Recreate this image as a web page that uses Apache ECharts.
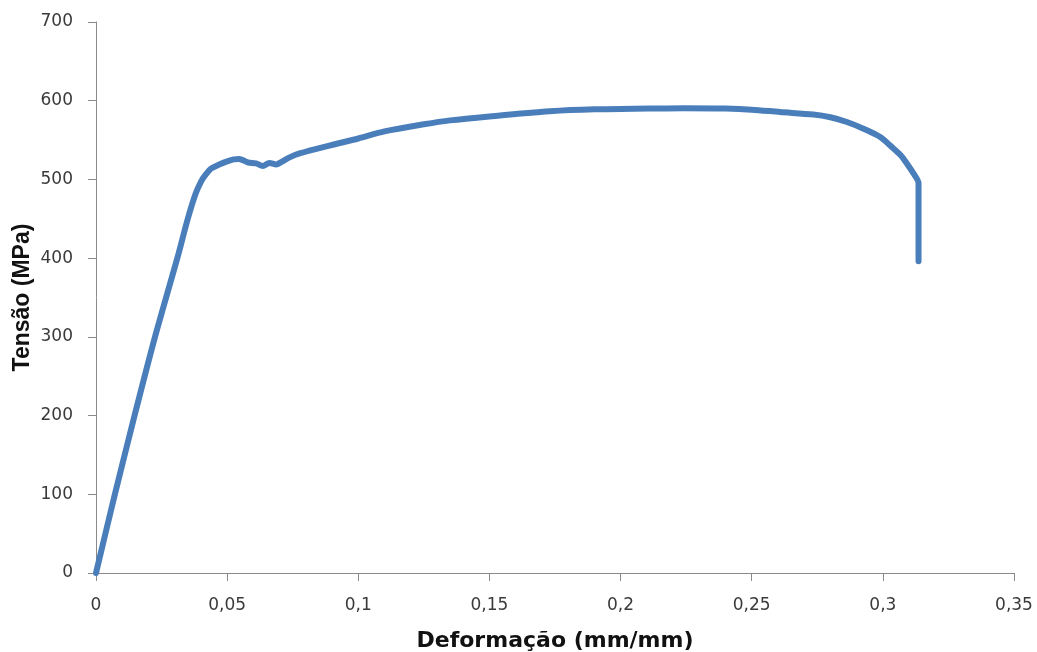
<!DOCTYPE html>
<html>
<head>
<meta charset="utf-8">
<script src="https://cdn.jsdelivr.net/npm/echarts@6/dist/echarts.min.js"></script>
<style>html,body{margin:0;padding:0;background:#fff;}#c{width:1037px;height:652px;}</style>
</head>
<body>
<div id="c"></div>
<script>
const strain = [0, 0.0072, 0.0147, 0.0225, 0.0310, 0.0350, 0.0380, 0.0400, 0.0418, 0.0440, 0.0470, 0.0500, 0.0525, 0.0545, 0.0560, 0.0580, 0.0610, 0.0636, 0.0661, 0.0687, 0.0706, 0.0738, 0.0776, 0.0890, 0.1000, 0.1100, 0.1250, 0.1350, 0.1500, 0.1730, 0.1900, 0.2110, 0.2240, 0.2400, 0.2500, 0.2608, 0.2735, 0.2800, 0.2863, 0.2926, 0.2990, 0.3028, 0.3068, 0.3092, 0.3117, 0.3136, 0.3136];
const stress = [0, 100, 200, 300, 400, 450, 482, 497, 506, 514, 519, 523, 525.5, 526, 524.5, 521.5, 520.5, 517, 521, 519, 522, 528, 533, 543, 552, 561, 570, 575, 580, 586.5, 589, 590, 590.5, 590, 588.6, 585.6, 582.5, 579, 573, 564.5, 554, 543, 530.7, 520, 507.5, 495, 396];
const xTicks = {min: 0, max: 0.35, interval: 0.05};
const yTicks = {min: 0, max: 700, interval: 100};
const xTitle = 'Deformação (mm/mm)';
const yTitle = 'Tensão (MPa)';

const data = strain.map((x, i) => [x, stress[i]]);
const chart = echarts.init(document.getElementById('c'), null, {renderer: 'canvas'});
const labelStyle = {color: '#3a3a3a', fontFamily: 'DejaVu Sans', fontSize: 17};
chart.setOption({
  animation: false,
  backgroundColor: '#ffffff',
  grid: {left: 96, right: 23, top: 22, bottom: 79, containLabel: false, outerBoundsMode: 'none'},
  xAxis: {
    type: 'value', min: xTicks.min, max: xTicks.max, interval: xTicks.interval,
    name: xTitle, nameLocation: 'middle', nameGap: 57, nameMoveOverlap: false,
    nameTextStyle: {color: '#111', fontFamily: 'DejaVu Sans', fontWeight: 'bold', fontSize: 22},
    axisLine: {show: true, onZero: false, lineStyle: {color: '#8a8a8a', width: 1}},
    axisTick: {show: true, inside: false, length: 8, lineStyle: {color: '#8a8a8a'}},
    splitLine: {show: false},
    axisLabel: Object.assign({margin: 24, formatter: v => String(parseFloat(v.toFixed(2))).replace('.', ',')}, labelStyle)
  },
  yAxis: {
    type: 'value', min: yTicks.min, max: yTicks.max, interval: yTicks.interval,
    name: yTitle, nameLocation: 'middle', nameGap: 62, nameMoveOverlap: false,
    nameTextStyle: {color: '#111', fontFamily: 'Liberation Sans', fontWeight: 'bold', fontSize: 23},
    axisLine: {show: true, lineStyle: {color: '#8a8a8a', width: 1}},
    axisTick: {show: true, inside: false, length: 8, lineStyle: {color: '#8a8a8a'}},
    splitLine: {show: false},
    axisLabel: Object.assign({margin: 23}, labelStyle)
  },
  series: [{
    type: 'line', data: data, showSymbol: false, symbol: 'none', smooth: 0.3,
    lineStyle: {color: '#4a7ebb', width: 6, cap: 'round', join: 'round'}
  }]
});
</script>
</body>
</html>
